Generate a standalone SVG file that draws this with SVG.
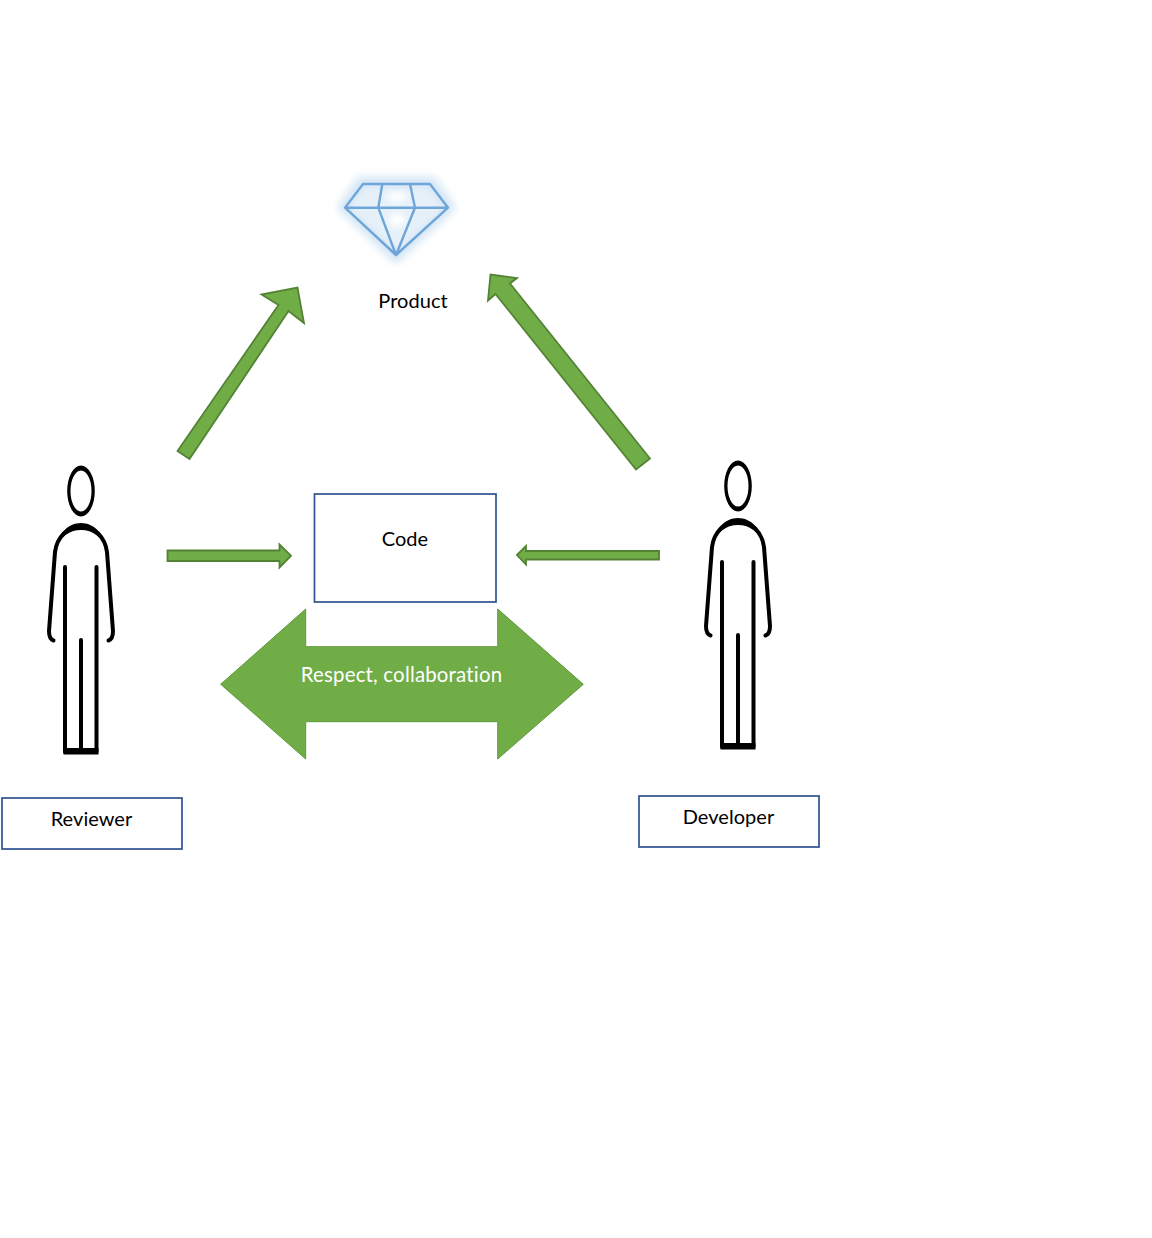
<svg xmlns="http://www.w3.org/2000/svg" width="1152" height="1238" viewBox="0 0 1152 1238">
<style>
text{font-family:"Lato","Open Sans","Liberation Sans",sans-serif;font-size:20px;fill:#000;text-anchor:middle;font-variant-ligatures:none;letter-spacing:.05px}
.box{fill:#fff;stroke:#2f528f;stroke-width:1.7}
.arrow{fill:#70ad47;stroke:#548235;stroke-width:1.8;stroke-linejoin:miter}
.fig{fill:none;stroke:#000;stroke-width:4;stroke-linecap:round}
.gem{fill:none;stroke:#6ea6da;stroke-width:2.4;stroke-linejoin:round}
</style>
<defs>
<filter id="glow" x="-30%" y="-30%" width="160%" height="160%"><feGaussianBlur stdDeviation="4"/></filter>
<filter id="soft" x="-30%" y="-30%" width="160%" height="160%"><feGaussianBlur stdDeviation="3"/></filter>
<g id="person">
<path fill="#000" fill-rule="evenodd" d="M67.200 491a13.800 25.500 0 1 0 27.600 0a13.800 25.500 0 1 0 -27.600 0ZM70.500 491a10.500 20.500 0 1 1 21 0a10.500 20.500 0 1 1 -21 0Z"/>
<path class="fig" d="M53.500 640.500C50.500 639.500 49 636 49 631L55 552C57 537 68 526 81 526C94 526 105 537 107 552L113 631C113 636 111.500 639.500 108.500 640.500"/>
<path fill="#000" d="M55 550C58 534 68 523 81 523C94 523 104 534 107 550C102 537 93 530 81 530C69 530 60 537 55 550Z"/>
<path class="fig" d="M65 567V752M96.500 567V752"/>
<path class="fig" stroke-linecap="butt" d="M81 640V750"/>
<rect x="63.500" y="748" width="35" height="6.500" fill="#000"/>
</g>
</defs>
<g id="connectors">
<polygon class="arrow" points="177.500,451 189.500,459 288.500,311 304,323 297.500,287.500 261.500,294.500 278.500,305"/>
<polygon class="arrow" points="650,458.500 636,469.500 495.500,294 488,300.500 490.500,274.500 517,278 510,283.500"/>
<polygon class="arrow" points="167.500,550.500 279.500,550.500 279.500,544.500 291,555.700 279.500,567.500 279.500,561 167.500,561"/>
<polygon class="arrow" points="517,555 526,546 526,551 659,551 659,559.500 526,559.500 526,564.500"/>
</g>
<g id="product">
<polygon points="358,177 435,177 456,208 396,264 337,208" fill="#d3e5f5" filter="url(#glow)"/>
<polygon points="365,187 428,187 444,208 396,251 349,208" fill="#e6f0f9" filter="url(#soft)"/>
<ellipse cx="397" cy="197" rx="10" ry="5" fill="#fff" filter="url(#soft)"/>
<ellipse cx="397" cy="220" rx="8" ry="7" fill="#fff" filter="url(#soft)"/>
<path class="gem" d="M363 184H430L448 207.700L396 255L345 207.700ZM345 207.700H448"/>
<path class="gem" d="M382.300 184L378.300 207.700L396 255L415 207.700L410 184"/>
<text x="413" y="308">Product</text>
</g>
<g id="code">
<rect class="box" x="314.500" y="494" width="181.500" height="108"/>
<text x="405" y="546">Code</text>
</g>
<g id="collaboration">
<polygon points="220.700,684.300 305.700,609 305.700,646.700 497.700,646.700 497.700,609 583.300,684.300 497.700,759 497.700,721.700 305.700,721.700 305.700,759" fill="#70ad47" stroke="#5f9a3a" stroke-width="1"/>
<text x="401.500" y="682" style="fill:#fff;font-size:20.400px;letter-spacing:.2px">Respect, collaboration</text>
</g>
<g id="reviewer">
<use href="#person"/>
<rect class="box" x="2" y="798" width="180" height="51"/>
<text x="91.500" y="826">Reviewer</text>
</g>
<g id="developer">
<use href="#person" x="657" y="-5"/>
<rect class="box" x="639" y="796" width="180" height="51"/>
<text x="728.500" y="824">Developer</text>
</g>
</svg>
